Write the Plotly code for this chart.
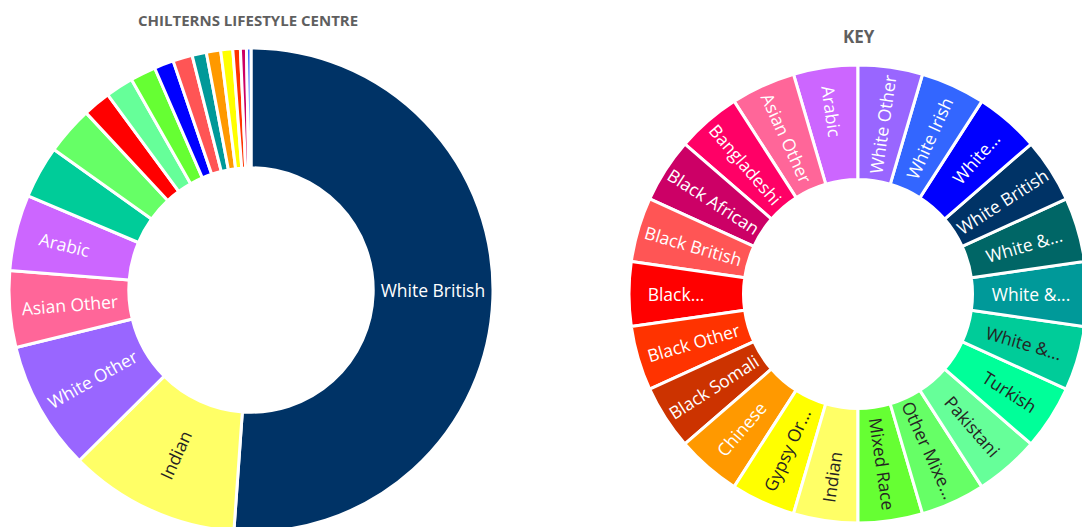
import plotly.graph_objects as go

# ---------------- data ----------------
key_categories = [
    "Arabic", "Asian Other", "Bangladeshi", "Black African", "Black British",
    "Black Caribbean", "Black Other", "Black Somali", "Chinese",
    "Gypsy Or Irish Traveller", "Indian", "Mixed Race", "Other Mixed Background",
    "Pakistani", "Turkish", "White & Asian", "White & Black African",
    "White & Black Caribbean", "White British", "White Eastern European",
    "White Irish", "White Other",
]
key_labels = [
    "Arabic", "Asian Other", "Bangladeshi", "Black African", "Black British",
    "Black...", "Black Other", "Black Somali", "Chinese",
    "Gypsy Or...", "Indian", "Mixed Race", "Other Mixe...",
    "Pakistani", "Turkish", "White &...", "White &...",
    "White &...", "White British", "White...",
    "White Irish", "White Other",
]
key_values = [1] * len(key_categories)
key_colors = [
    "#cc66ff", "#ff6699", "#ff0066", "#cc0066", "#ff5555",
    "#ff0000", "#ff3300", "#cc3300", "#ff9900",
    "#ffff00", "#ffff66", "#66ff33", "#66ff66",
    "#66ff99", "#00ff99", "#00cc99", "#009999",
    "#006666", "#003366", "#0000ff",
    "#3366ff", "#9966ff",
]
dark_text_categories = {
    "Gypsy Or Irish Traveller", "Indian", "Mixed Race", "Other Mixed Background",
    "Pakistani", "Turkish", "White & Asian",
}

centre_categories = [
    "White British", "Indian", "White Other", "Asian Other", "Arabic",
    "White & Asian", "Other Mixed Background", "Black Caribbean",
    "Pakistani", "Mixed Race", "White Eastern European", "Black British",
    "White & Black African", "Chinese", "Gypsy Or Irish Traveller",
    "Black Other", "Black African", "White Irish",
]
centre_values = [
    51.0, 11.4, 8.6, 5.1, 5.05,
    3.5, 3.2, 1.85,
    1.85, 1.7, 1.3, 1.3,
    0.95, 0.95, 0.8,
    0.5, 0.4, 0.3,
]

titles = ["CHILTERNS LIFESTYLE CENTRE", "KEY"]

# ---------------- layout helpers ----------------
W, H = 1100, 560
FONT = "Open Sans"
DARK = "#252423"


def domain(cx, cy, r):
    return dict(x=[(cx - r) / W, (cx + r) / W],
                y=[(H - (cy + r)) / H, (H - (cy - r)) / H])


color_of = dict(zip(key_categories, key_colors))

total = sum(centre_values)
centre_text = [c if v / total >= 0.045 else "" for c, v in zip(centre_categories, centre_values)]
centre_colors = [color_of[c] for c in centre_categories]
centre_text_colors = [DARK if c in dark_text_categories else "white" for c in centre_categories]
key_text_colors = [DARK if c in dark_text_categories else "white" for c in key_categories]

fig = go.Figure()

fig.add_trace(go.Pie(
    labels=centre_categories, values=centre_values, text=centre_text,
    textinfo="text", textposition="inside", insidetextorientation="radial",
    hole=0.505, sort=False, direction="clockwise", rotation=0,
    marker=dict(colors=centre_colors, line=dict(color="white", width=3)),
    textfont=dict(family=FONT, size=17.5, color=centre_text_colors),
    domain=domain(251, 290, 242), showlegend=False, hoverinfo="label+percent",
))

fig.add_trace(go.Pie(
    labels=key_categories, values=key_values, text=key_labels,
    textinfo="text", textposition="inside", insidetextorientation="radial",
    hole=0.5, sort=False, direction="counterclockwise",
    rotation=-360 / len(key_categories),
    marker=dict(colors=key_colors, line=dict(color="white", width=3)),
    textfont=dict(family=FONT, size=17.5, color=key_text_colors),
    domain=domain(858, 294, 229), showlegend=False, hoverinfo="label",
))

fig.add_annotation(text="<b>%s</b>" % titles[0], x=248 / W, y=1 - 20 / H,
                   xref="paper", yref="paper", xanchor="center", yanchor="middle",
                   showarrow=False,
                   font=dict(family=FONT, size=15, color="#5f5f5f"))
fig.add_annotation(text="<b>%s</b>" % titles[1], x=859 / W, y=1 - 37 / H,
                   xref="paper", yref="paper", xanchor="center", yanchor="middle",
                   showarrow=False,
                   font=dict(family=FONT, size=17, color="#5f5f5f"))

fig.update_layout(
    width=W, height=H, margin=dict(l=0, r=0, t=0, b=0),
    paper_bgcolor="white", plot_bgcolor="white",
)

fig.write_html(
    "out.html",
    post_script="document.body.style.margin='0';document.body.style.overflow='hidden';"
                "document.documentElement.style.overflow='hidden';",
)
